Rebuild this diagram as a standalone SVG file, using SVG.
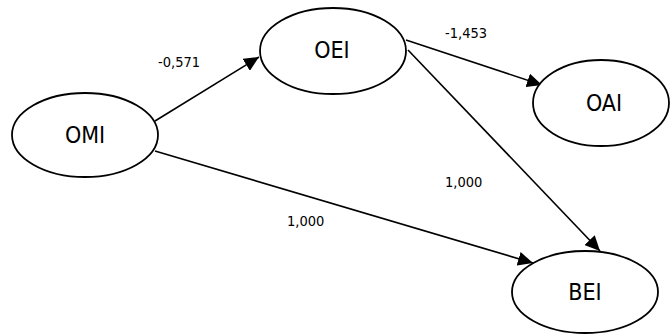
<svg xmlns="http://www.w3.org/2000/svg" width="670" height="335" viewBox="0 0 670 335">
<style>
.node ellipse{fill:#fff;stroke:#000;stroke-width:1.8}
.node text{font-family:"DejaVu Sans Condensed","DejaVu Sans",sans-serif;font-size:23px;fill:#000;text-anchor:middle}
.edge{stroke:#000;stroke-width:1.6;fill:none;marker-end:url(#arr)}
.lbl{font-family:"DejaVu Sans Condensed","DejaVu Sans",sans-serif;font-size:14.5px;fill:#000}
</style>
<defs>
<marker id="arr" markerUnits="userSpaceOnUse" markerWidth="16" markerHeight="14" refX="15" refY="7" orient="auto">
<path d="M0,0 L15,7 L0,14 z" fill="#000"/>
</marker>
</defs>
<g id="connectors">
<line class="edge" x1="155" y1="121" x2="259" y2="57"/>
<line class="edge" x1="155" y1="151" x2="533" y2="263"/>
<line class="edge" x1="406" y1="40" x2="542" y2="85"/>
<line class="edge" x1="408" y1="50" x2="600" y2="251"/>
<text class="lbl" x="158" y="67">-0,571</text>
<text class="lbl" x="445" y="38">-1,453</text>
<text class="lbl" x="445" y="187">1,000</text>
<text class="lbl" x="287" y="226">1,000</text>
</g>
<g id="OMI" class="node"><ellipse cx="85" cy="135" rx="73" ry="42"/><text x="85" y="143">OMI</text></g>
<g id="OEI" class="node"><ellipse cx="333" cy="51" rx="73" ry="43"/><text x="332" y="58">OEI</text></g>
<g id="OAI" class="node"><ellipse cx="601" cy="103" rx="68" ry="43"/><text x="604" y="111">OAI</text></g>
<g id="BEI" class="node"><ellipse cx="585" cy="292" rx="73" ry="41"/><text x="585" y="300">BEI</text></g>
</svg>
